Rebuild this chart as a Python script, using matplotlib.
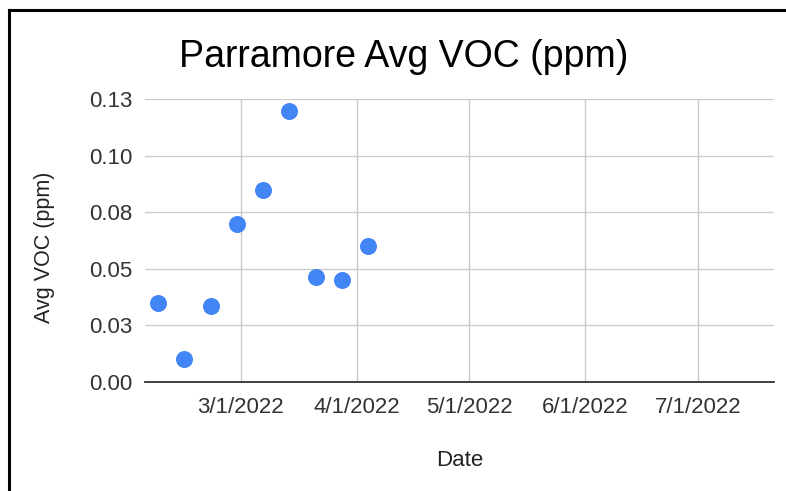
import datetime as dt
import matplotlib
matplotlib.use('Agg')
import matplotlib.pyplot as plt
from matplotlib.lines import Line2D

plt.rcParams['font.family'] = ['Liberation Sans', 'DejaVu Sans']

# Data (weekly samples)
dates = [dt.date(2022, 2, 7), dt.date(2022, 2, 14), dt.date(2022, 2, 21), dt.date(2022, 2, 28),
         dt.date(2022, 3, 7), dt.date(2022, 3, 14), dt.date(2022, 3, 21), dt.date(2022, 3, 28),
         dt.date(2022, 4, 4)]
voc = [0.0351, 0.0103, 0.0335, 0.0700, 0.0850, 0.1198, 0.0466, 0.0451, 0.0600]

y_ticks = [0.0, 0.025, 0.05, 0.075, 0.1, 0.125]
y_labels = ['0.00', '0.03', '0.05', '0.08', '0.10', '0.13']
x_ticks = [dt.date(2022, 3, 1), dt.date(2022, 4, 1), dt.date(2022, 5, 1),
           dt.date(2022, 6, 1), dt.date(2022, 7, 1)]
x_labels = ['3/1/2022', '4/1/2022', '5/1/2022', '6/1/2022', '7/1/2022']

fig = plt.figure(figsize=(7.86, 4.91), dpi=100)
ax = fig.add_axes([0.1845, 0.222, 0.8002, 0.5758])

ax.scatter(dates, voc, s=150, color='#4285F4', zorder=3, linewidths=0)

ax.set_ylim(0, 0.125)
ax.set_xlim(dt.datetime(2022, 2, 3, 12), dt.datetime(2022, 7, 21, 8))
ax.set_yticks(y_ticks)
ax.set_yticklabels(y_labels)
ax.set_xticks(x_ticks)
ax.set_xticklabels(x_labels)
ax.tick_params(length=0, labelsize=16, colors='#333333', pad=9)
ax.tick_params(axis='x', pad=11)
ax.grid(True, color='#cccccc', linewidth=1)
ax.set_axisbelow(True)
for side in ['top', 'right', 'left']:
    ax.spines[side].set_visible(False)
ax.spines['bottom'].set_color('#333333')
ax.spines['bottom'].set_linewidth(1.3)
ax.spines['bottom'].set_zorder(4)

fig.text(0.513, 0.884, 'Parramore Avg VOC (ppm)', ha='center', va='center', fontsize=27, color='#000000')
fig.text(0.585, 0.063, 'Date', ha='center', va='center', fontsize=16, color='#222222')
fig.text(0.057, 0.497, 'Avg VOC (ppm)', ha='center', va='center', rotation=90, fontsize=15.5, color='#222222')

# screenshot frame
fig.add_artist(Line2D([0.0115, 1.0], [0.98, 0.98], color='#000000', linewidth=2.2))
fig.add_artist(Line2D([0.0115, 0.0115], [0.0, 0.98], color='#000000', linewidth=2.2))

fig.savefig('out.png', dpi=100)
